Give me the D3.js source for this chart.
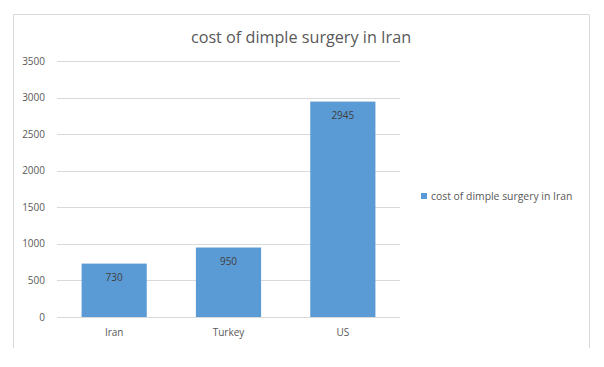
<!DOCTYPE html>
<html>
<head>
<meta charset="utf-8">
<script src="https://cdn.jsdelivr.net/npm/d3@7"></script>
<style>
  body { margin: 0; background: #fff; }
  svg { display: block; }
</style>
</head>
<body>
<div id="chart"></div>
<script>
// chart data
var countries = ["Iran", "Turkey", "US"]
var costs = [730, 950, 2945]
var yTicks = [0, 500, 1000, 1500, 2000, 2500, 3000, 3500]
var chartTitle = "cost of dimple surgery in Iran"
var seriesName = "cost of dimple surgery in Iran"

var width = 604
var height = 367
var font = "'Open Sans', 'DejaVu Sans', sans-serif"

var svg = d3.select("#chart")
  .append("svg")
  .attr("width", width)
  .attr("height", height)

// chart frame (bottom edge falls outside the picture)
svg.append("path")
  .attr("d", "M13.5,348 V14.5 H589.5 V348")
  .attr("fill", "none")
  .attr("stroke", "#d9d9d9")
  .attr("stroke-width", 1)

// title
svg.append("text")
  .attr("x", 301)
  .attr("y", 42.5)
  .attr("text-anchor", "middle")
  .attr("font-family", font)
  .attr("font-size", "16.2px")
  .attr("fill", "#595959")
  .text(chartTitle)

// scales
var x = d3.scaleBand()
  .domain(countries)
  .range([57, 400])
  .paddingInner(0.43)
  .paddingOuter(0.215)

var y = d3.scaleLinear()
  .domain([0, 3500])
  .range([317, 61])

// gridlines
svg.append("g")
  .selectAll("line")
  .data(yTicks)
  .enter()
  .append("line")
  .attr("x1", 57)
  .attr("x2", 400)
  .attr("y1", function(d) { return Math.round(y(d)) + 0.5 })
  .attr("y2", function(d) { return Math.round(y(d)) + 0.5 })
  .attr("stroke", "#d9d9d9")

// y axis labels
svg.append("g")
  .selectAll("text")
  .data(yTicks)
  .enter()
  .append("text")
  .attr("x", 45)
  .attr("y", function(d) { return y(d) })
  .attr("dy", "0.35em")
  .attr("text-anchor", "end")
  .attr("font-family", font)
  .attr("font-size", "10px")
  .attr("fill", "#595959")
  .text(function(d) { return d })

// bars
svg.append("g")
  .selectAll("rect")
  .data(costs)
  .enter()
  .append("rect")
  .attr("x", function(d, i) { return x(countries[i]) })
  .attr("y", function(d) { return y(d) })
  .attr("width", x.bandwidth())
  .attr("height", function(d) { return y(0) - y(d) })
  .attr("fill", "#5b9bd5")

// value labels inside bars
svg.append("g")
  .selectAll("text")
  .data(costs)
  .enter()
  .append("text")
  .attr("x", function(d, i) { return x(countries[i]) + x.bandwidth() / 2 })
  .attr("y", function(d) { return y(d) + 14 })
  .attr("dy", "0.35em")
  .attr("text-anchor", "middle")
  .attr("font-family", font)
  .attr("font-size", "10px")
  .attr("fill", "#404040")
  .text(function(d) { return d })

// x axis labels
svg.append("g")
  .selectAll("text")
  .data(countries)
  .enter()
  .append("text")
  .attr("x", function(d) { return x(d) + x.bandwidth() / 2 })
  .attr("y", 332)
  .attr("dy", "0.35em")
  .attr("text-anchor", "middle")
  .attr("font-family", font)
  .attr("font-size", "10px")
  .attr("fill", "#595959")
  .text(function(d) { return d })

// legend
svg.append("rect")
  .attr("x", 421)
  .attr("y", 193)
  .attr("width", 6)
  .attr("height", 6)
  .attr("fill", "#5b9bd5")

svg.append("text")
  .attr("x", 431)
  .attr("y", 196)
  .attr("dy", "0.35em")
  .attr("font-family", font)
  .attr("font-size", "10.4px")
  .attr("fill", "#595959")
  .text(seriesName)
</script>
</body>
</html>
